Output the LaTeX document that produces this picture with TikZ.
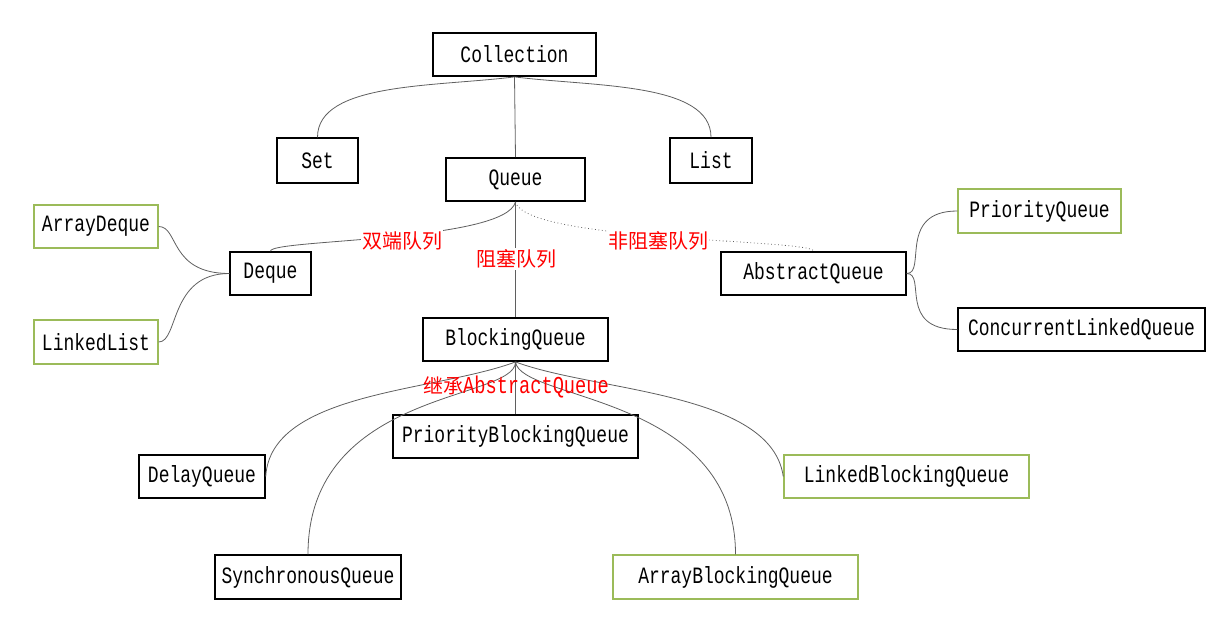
\documentclass[tikz,border=0pt]{standalone}
\usepackage{fontspec}
\setmonofont{Liberation Mono}
\newfontfamily\cjk{Noto Sans CJK SC}
\definecolor{boxgreen}{RGB}{155,187,89}
\definecolor{linegray}{RGB}{95,95,95}
\newcommand{\qn}[1]{\scalebox{1}[1.3]{#1}}
\tikzset{
  box/.style={draw=black,line width=1.1pt,fill=white,inner sep=0pt,minimum height=32.5pt,font=\ttfamily\fontsize{13.5}{14}\selectfont},
  gbox/.style={box,draw=boxgreen},
  lnk/.style={draw=linegray,line width=0.6pt},
  lbl/.style={text=red,font=\cjk\fontsize{15}{16}\selectfont,inner sep=1pt},
}
\begin{document}
\begin{tikzpicture}[x=0.75pt,y=0.75pt,yscale=-1,xscale=1]
\useasboundingbox (0,0) rectangle (1221,632);

% Boxes
\node[box,minimum width=122.25pt] (coll) at (514.5,54.5) {\qn{Collection}};
\node[box,minimum width=60.75pt,minimum height=33.75pt] (set) at (317.5,160.5) {\qn{Set}};
\node[box,minimum width=61.5pt,minimum height=33.75pt] (list) at (711,160.5) {\qn{List}};
\node[box,minimum width=104.25pt] (queue) at (515.5,179.5) {\qn{Queue}};
\node[gbox,minimum width=93pt] (adeque) at (96,226.5) {\qn{ArrayDeque}};
\node[box,minimum width=60.75pt] (deque) at (270.5,273.5) {\qn{Deque}};
\node[gbox,minimum width=93pt,minimum height=33pt] (llist) at (96,342) {\qn{LinkedList}};
\node[box,minimum width=138.75pt] (aq) at (813.5,273.5) {\qn{AbstractQueue}};
\node[gbox,minimum width=122.25pt,minimum height=33pt] (pq) at (1039.5,211) {\qn{PriorityQueue}};
\node[box,minimum width=185.25pt] (clq) at (1081.5,329.5) {\qn{ConcurrentLinkedQueue}};
\node[box,minimum width=138.75pt] (bq) at (515.5,339.5) {\qn{BlockingQueue}};
\node[box,minimum width=183.75pt] (pbq) at (515.5,436.5) {\qn{PriorityBlockingQueue}};
\node[box,minimum width=94.5pt] (dq) at (202,476.5) {\qn{DelayQueue}};
\node[gbox,minimum width=183.75pt] (lbq) at (906.5,476.5) {\qn{LinkedBlockingQueue}};
\node[box,minimum width=139.5pt,minimum height=33pt] (sq) at (308,577) {\qn{SynchronousQueue}};
\node[gbox,minimum width=183.75pt,minimum height=33pt] (abq) at (735.5,577) {\qn{ArrayBlockingQueue}};

% Connectors
\draw[lnk] (coll.south) .. controls +(-80,10) and +(0,-55) .. (set.north);
\draw[lnk] (coll.south) .. controls +(80,10) and +(0,-55) .. (list.north);
\draw[lnk] (coll.south) -- (queue.north);
\draw[lnk] (queue.south) .. controls +(-10,40) and +(0,-12) .. (deque.north);
\draw[lnk,dotted] (queue.south) .. controls +(10,40) and +(0,-12) .. (aq.north);
\draw[lnk] (queue.south) -- (bq.north);
\draw[lnk] (deque.west) .. controls +(-60,0) and +(20,0) .. (adeque.east);
\draw[lnk] (deque.west) .. controls +(-60,0) and +(20,0) .. (llist.east);
\draw[lnk] (aq.east) .. controls +(20,0) and +(-60,0) .. (pq.west);
\draw[lnk] (aq.east) .. controls +(20,0) and +(-60,0) .. (clq.west);
\draw[lnk] (bq.south) -- (pbq.north);
\draw[lnk] (bq.south) .. controls +(-80,30) and +(5,-85) .. (dq.east);
\draw[lnk] (bq.south) .. controls +(0,39) and +(0,-165) .. (sq.north);
\draw[lnk] (bq.south) .. controls +(5,39) and +(0,-160) .. (abq.north);
\draw[lnk] (bq.south) .. controls +(80,30) and +(-12,-85) .. (lbq.west);

% Labels
\node[lbl,fill=white] (l1) at (402,241) {双端队列};
\node[lbl,fill=white] (l2) at (516,259) {阻塞队列};
\node[lbl,fill=white] (l3) at (658,241) {非阻塞队列};
\node[lbl] (l4) at (516,387) {继承{\ttfamily\fontsize{14}{15}\selectfont\qn{AbstractQueue}}};

\end{tikzpicture}
\end{document}
